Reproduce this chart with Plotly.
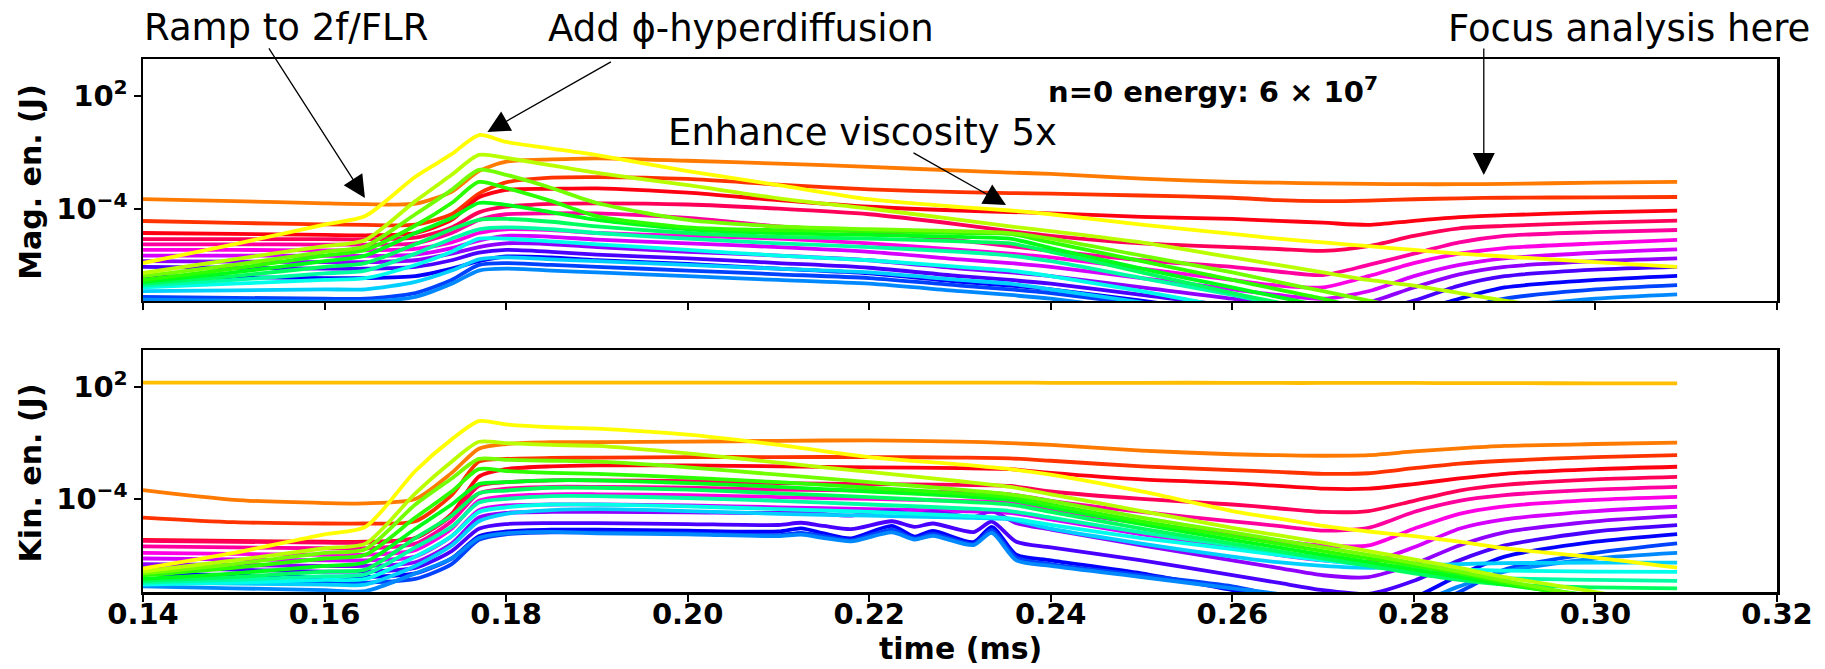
import colorsys
import plotly.graph_objects as go

# ---------------- data (log10 of energy in J) ----------------
time_ms = [0.140, 0.150, 0.160, 0.1645, 0.170, 0.174, 0.177, 0.180, 0.185, 0.190,
           0.200, 0.210, 0.220, 0.230, 0.2355, 0.240, 0.250, 0.260, 0.265, 0.270,
           0.275, 0.280, 0.285, 0.290, 0.300, 0.309]
# finer time base for the kinetic modes that oscillate around t = 0.21-0.236 ms
time_ms_fine = [0.140, 0.150, 0.160, 0.1645, 0.170, 0.174, 0.177, 0.180, 0.185, 0.190,
                0.200, 0.210, 0.2125, 0.215, 0.218, 0.2225, 0.225, 0.227, 0.2315, 0.2335,
                0.2362, 0.240, 0.250, 0.260, 0.265, 0.270, 0.275, 0.280, 0.285, 0.290,
                0.300, 0.309]

# magnetic energy, toroidal mode n=1..21 (n=0 is off scale: 6e7 J)
mag_n01 = [-3.49, -3.60, -3.72, -3.76, -3.74, -3.10, -2.00, -1.50, -1.38, -1.32, -1.45, -1.60, -1.78, -1.98, -2.08, -2.15, -2.40, -2.58, -2.62, -2.66, -2.68, -2.70, -2.70, -2.68, -2.62, -2.58]
mag_n02 = [-4.66, -4.76, -4.84, -4.87, -4.85, -4.30, -3.20, -2.60, -2.35, -2.32, -2.42, -2.72, -2.98, -3.12, -3.17, -3.20, -3.30, -3.42, -3.55, -3.60, -3.57, -3.50, -3.45, -3.42, -3.40, -3.38]
mag_n03 = [-5.30, -5.35, -5.40, -5.42, -5.30, -4.60, -3.40, -3.00, -2.95, -2.92, -3.15, -3.55, -3.90, -4.10, -4.18, -4.25, -4.44, -4.55, -4.65, -4.75, -4.87, -4.65, -4.45, -4.35, -4.20, -4.11]
mag_n04 = [-5.62, -5.62, -5.63, -5.63, -5.55, -5.00, -4.20, -3.90, -3.75, -3.72, -3.78, -4.00, -4.30, -4.85, -5.20, -5.45, -5.85, -6.05, -6.15, -6.25, -6.00, -5.45, -5.05, -4.92, -4.75, -4.64]
mag_n05 = [-5.90, -5.90, -5.92, -5.92, -5.85, -5.30, -4.60, -4.30, -4.25, -4.25, -4.50, -4.95, -5.25, -5.70, -6.00, -6.25, -6.75, -7.10, -7.35, -7.54, -7.00, -6.40, -5.80, -5.45, -5.25, -5.14]
mag_n06 = [-6.20, -6.20, -6.22, -6.22, -6.15, -5.80, -5.30, -5.10, -5.15, -5.30, -5.45, -5.60, -5.85, -6.20, -6.40, -6.60, -7.20, -7.80, -8.10, -8.20, -7.60, -6.90, -6.40, -6.10, -5.85, -5.67]
mag_n07 = [-6.50, -6.50, -6.52, -6.52, -6.45, -6.10, -5.70, -5.45, -5.50, -5.65, -5.85, -6.05, -6.30, -6.70, -6.90, -7.10, -7.70, -8.30, -8.60, -8.80, -8.40, -7.60, -7.00, -6.65, -6.35, -6.17]
mag_n08 = [-6.80, -6.82, -6.85, -6.85, -6.75, -6.40, -6.05, -5.85, -5.90, -6.05, -6.30, -6.50, -6.75, -7.20, -7.40, -7.60, -8.20, -8.80, -9.20, -9.40, -9.00, -8.20, -7.50, -7.10, -6.80, -6.65]
mag_n09 = [-7.10, -7.15, -7.20, -7.20, -7.10, -6.75, -6.35, -6.20, -6.30, -6.45, -6.65, -6.90, -7.15, -7.60, -7.80, -8.00, -8.60, -9.20, -9.60, -9.80, -9.50, -8.90, -8.10, -7.60, -7.25, -7.10]
mag_n10 = [-7.60, -7.65, -7.70, -7.70, -7.60, -7.20, -6.80, -6.55, -6.60, -6.75, -6.95, -7.20, -7.45, -7.90, -8.10, -8.30, -8.90, -9.60, -10.0, -10.2, -10.2, -9.50, -8.80, -8.20, -7.80, -7.58]
mag_n11 = [-8.70, -8.75, -8.80, -8.80, -8.50, -7.80, -7.00, -6.90, -7.00, -7.10, -7.30, -7.50, -7.70, -8.10, -8.30, -8.50, -9.10, -9.80, -10.2, -10.4, -10.4, -10.2, -9.40, -8.80, -8.30, -8.07]
mag_n12 = [-8.85, -8.90, -8.95, -8.95, -8.70, -8.00, -7.30, -7.20, -7.30, -7.40, -7.60, -7.80, -8.00, -8.40, -8.60, -8.80, -9.40, -10.0, -10.4, -10.6, -10.6, -10.5, -9.90, -9.30, -8.80, -8.57]
mag_n13 = [-8.40, -8.35, -8.30, -8.30, -7.90, -7.30, -6.70, -6.60, -6.70, -6.80, -7.00, -7.20, -7.40, -7.80, -8.00, -8.30, -9.00, -9.80, -10.2, -10.5, -10.6, -10.6, -10.4, -10.0, -9.40, -9.05]
mag_n14 = [-8.20, -8.00, -7.80, -7.70, -7.00, -6.30, -5.60, -5.60, -5.75, -5.90, -6.20, -6.50, -6.75, -7.10, -7.30, -7.60, -8.40, -9.30, -9.80, -10.3, -10.6, -10.8, -11.0, -11.0, -11.0, -11.0]
mag_n15 = [-8.10, -7.80, -7.45, -7.30, -6.40, -5.60, -5.10, -5.00, -5.10, -5.30, -5.60, -5.85, -6.05, -6.30, -6.50, -6.80, -7.70, -8.60, -9.10, -9.60, -10.1, -10.6, -11.0, -11.0, -11.0, -11.0]
mag_n16 = [-8.00, -7.60, -7.10, -6.90, -5.90, -5.10, -4.60, -4.55, -4.70, -4.95, -5.30, -5.50, -5.60, -5.75, -5.85, -6.30, -7.40, -8.50, -9.00, -9.50, -10.0, -10.5, -11.0, -11.0, -11.0, -11.0]
mag_n17 = [-7.90, -7.40, -6.80, -6.50, -5.30, -4.50, -3.70, -3.80, -4.20, -4.60, -5.10, -5.30, -5.40, -5.50, -5.60, -6.10, -7.20, -8.20, -8.70, -9.20, -9.70, -10.2, -10.7, -11.0, -11.0, -11.0]
mag_n18 = [-7.80, -7.20, -6.50, -6.20, -4.90, -3.70, -2.58, -2.90, -3.60, -4.40, -5.00, -5.15, -5.20, -5.30, -5.35, -5.80, -6.80, -7.80, -8.30, -8.80, -9.40, -10.0, -10.5, -11.0, -11.0, -11.0]
mag_n19 = [-7.60, -7.00, -6.30, -6.00, -4.30, -3.00, -1.94, -2.20, -2.90, -3.70, -4.60, -4.95, -5.10, -5.20, -5.30, -5.60, -6.50, -7.40, -7.90, -8.40, -8.90, -9.40, -10.0, -10.5, -11.0, -11.0]
mag_n20 = [-7.43, -6.70, -6.00, -5.67, -3.60, -2.20, -1.14, -1.30, -1.70, -2.10, -2.75, -3.45, -4.00, -4.60, -4.95, -5.20, -5.80, -6.60, -7.00, -7.40, -7.80, -8.10, -8.50, -8.90, -9.60, -10.2]
mag_n21 = [-6.90, -5.90, -4.85, -4.39, -2.30, -1.10, -0.08, -0.45, -0.80, -1.15, -2.00, -2.75, -3.50, -3.92, -4.10, -4.30, -4.85, -5.35, -5.60, -5.80, -6.00, -6.20, -6.40, -6.55, -6.85, -7.10]

# kinetic energy, toroidal mode n=0..21 (n=8..12 use time_ms_fine)
kin_n00 = [2.25, 2.25, 2.25, 2.25, 2.25, 2.25, 2.25, 2.25, 2.25, 2.25, 2.25, 2.25, 2.25, 2.25, 2.25, 2.24, 2.24, 2.24, 2.23, 2.23, 2.23, 2.23, 2.22, 2.22, 2.21, 2.21]
kin_n01 = [-3.53, -4.05, -4.22, -4.24, -4.00, -2.60, -1.30, -1.05, -0.95, -0.95, -0.92, -0.88, -0.85, -0.92, -1.00, -1.10, -1.40, -1.60, -1.65, -1.68, -1.65, -1.45, -1.28, -1.15, -1.05, -0.98]
kin_n02 = [-5.00, -5.25, -5.32, -5.32, -5.20, -3.80, -2.00, -1.85, -1.80, -1.78, -1.75, -1.75, -1.75, -1.78, -1.82, -1.95, -2.25, -2.45, -2.55, -2.65, -2.62, -2.35, -2.10, -1.95, -1.75, -1.65]
kin_n03 = [-6.20, -6.25, -6.30, -6.30, -6.10, -4.80, -2.80, -2.40, -2.25, -2.20, -2.20, -2.25, -2.30, -2.35, -2.40, -2.60, -2.95, -3.15, -3.30, -3.45, -3.45, -3.20, -2.90, -2.65, -2.40, -2.27]
kin_n04 = [-6.25, -6.30, -6.35, -6.35, -6.10, -4.90, -3.30, -3.10, -3.00, -3.00, -3.05, -3.15, -3.20, -3.25, -3.30, -3.60, -4.00, -4.30, -4.50, -4.70, -4.65, -4.10, -3.55, -3.25, -2.95, -2.81]
kin_n05 = [-6.55, -6.60, -6.65, -6.65, -6.40, -5.20, -3.70, -3.45, -3.35, -3.35, -3.40, -3.50, -3.55, -3.65, -3.75, -4.10, -4.70, -5.20, -5.45, -5.70, -5.55, -4.70, -4.10, -3.80, -3.50, -3.35]
kin_n06 = [-6.90, -6.95, -7.00, -7.00, -6.75, -5.60, -4.10, -3.85, -3.75, -3.75, -3.80, -3.90, -4.00, -4.10, -4.20, -4.60, -5.30, -5.90, -6.25, -6.50, -6.50, -5.60, -4.80, -4.40, -4.05, -3.89]
kin_n07 = [-7.20, -7.25, -7.30, -7.30, -7.10, -6.00, -4.60, -4.35, -4.30, -4.30, -4.35, -4.45, -4.55, -4.65, -4.75, -5.10, -5.90, -6.60, -7.00, -7.30, -7.40, -6.60, -5.60, -5.10, -4.65, -4.42]
kin_n08 = [-7.50, -7.55, -7.60, -7.60, -7.40, -6.40, -5.00, -4.75, -4.70, -4.70, -4.72, -4.75, -4.65, -4.80, -4.90, -4.62, -4.85, -4.68, -4.98, -4.65, -5.30, -5.65, -6.50, -7.30, -7.70, -8.10, -8.20, -7.50, -6.50, -5.80, -5.20, -4.91]
kin_n09 = [-7.70, -7.80, -7.90, -7.90, -7.70, -6.80, -5.60, -5.35, -5.30, -5.30, -5.35, -5.40, -5.28, -5.45, -5.62, -5.20, -5.50, -5.32, -5.78, -5.22, -6.30, -6.60, -7.30, -8.10, -8.50, -8.90, -9.10, -8.40, -7.30, -6.50, -5.75, -5.41]
kin_n10 = [-8.00, -8.10, -8.20, -8.20, -8.00, -7.20, -6.00, -5.75, -5.65, -5.65, -5.70, -5.75, -5.58, -5.85, -6.12, -5.45, -6.02, -5.72, -6.32, -5.50, -7.00, -7.30, -8.00, -8.90, -9.30, -9.70, -9.90, -9.30, -8.10, -7.10, -6.30, -5.89]
kin_n11 = [-8.30, -8.40, -8.50, -8.50, -8.30, -7.50, -6.20, -5.90, -5.80, -5.80, -5.85, -5.95, -5.82, -6.00, -6.22, -5.65, -6.12, -5.88, -6.42, -5.68, -7.15, -7.50, -8.10, -8.70, -9.20, -9.60, -10.0, -10.0, -9.00, -7.80, -6.90, -6.39]
kin_n12 = [-8.70, -8.80, -8.90, -8.95, -8.00, -7.20, -6.10, -5.85, -5.77, -5.85, -5.90, -6.00, -5.92, -6.10, -6.28, -5.80, -6.18, -5.98, -6.48, -5.82, -7.30, -7.60, -8.20, -8.80, -9.10, -9.50, -9.80, -9.60, -8.70, -7.90, -7.20, -6.90]
kin_n13 = [-8.50, -8.55, -8.60, -8.60, -7.60, -6.50, -5.20, -4.80, -4.60, -4.55, -4.65, -4.80, -4.90, -5.00, -5.10, -5.60, -6.40, -7.10, -7.40, -7.60, -7.70, -7.60, -7.50, -7.45, -7.42, -7.42]
kin_n14 = [-8.60, -8.50, -8.35, -8.30, -7.10, -6.00, -4.70, -4.45, -4.30, -4.30, -4.40, -4.55, -4.70, -4.90, -5.05, -5.40, -6.10, -6.70, -7.00, -7.30, -7.55, -7.70, -7.80, -7.85, -7.90, -7.92]
kin_n15 = [-8.50, -8.35, -8.15, -8.05, -6.60, -5.50, -4.20, -4.00, -3.85, -3.85, -3.95, -4.10, -4.30, -4.50, -4.65, -5.00, -5.80, -6.50, -6.85, -7.20, -7.55, -7.85, -8.10, -8.25, -8.35, -8.40]
kin_n16 = [-8.40, -8.20, -7.90, -7.80, -6.10, -4.90, -3.70, -3.55, -3.40, -3.40, -3.50, -3.70, -3.90, -4.15, -4.30, -4.70, -5.60, -6.40, -6.80, -7.20, -7.60, -8.00, -8.35, -8.60, -8.75, -8.81]
kin_n17 = [-8.30, -8.00, -7.60, -7.40, -5.60, -4.30, -3.20, -3.10, -3.00, -3.00, -3.15, -3.35, -3.60, -3.85, -4.05, -4.45, -5.35, -6.20, -6.60, -7.00, -7.40, -7.80, -8.20, -8.60, -9.20, -9.60]
kin_n18 = [-8.10, -7.70, -7.20, -7.00, -5.00, -3.60, -2.40, -2.50, -2.60, -2.65, -2.85, -3.10, -3.40, -3.70, -3.90, -4.30, -5.20, -6.00, -6.40, -6.80, -7.20, -7.60, -8.00, -8.50, -9.40, -10.0]
kin_n19 = [-8.00, -7.50, -6.90, -6.70, -4.30, -2.90, -1.85, -1.90, -1.95, -2.00, -2.30, -2.70, -3.10, -3.50, -3.75, -4.10, -5.00, -5.80, -6.20, -6.60, -7.00, -7.45, -7.90, -8.40, -9.30, -10.0]
kin_n20 = [-7.90, -7.30, -6.65, -6.40, -3.70, -2.00, -0.93, -1.00, -1.10, -1.15, -1.55, -2.05, -2.55, -3.05, -3.35, -3.75, -4.65, -5.55, -5.95, -6.35, -6.80, -7.25, -7.70, -8.20, -9.00, -9.80]
kin_n21 = [-7.74, -6.90, -5.90, -5.50, -2.50, -0.80, 0.18, 0.00, -0.15, -0.22, -0.55, -1.10, -1.75, -2.15, -2.40, -2.70, -3.60, -4.65, -5.05, -5.45, -5.75, -6.00, -6.30, -6.65, -7.15, -7.69]

mag_series = [mag_n01, mag_n02, mag_n03, mag_n04, mag_n05, mag_n06, mag_n07, mag_n08, mag_n09, mag_n10,
              mag_n11, mag_n12, mag_n13, mag_n14, mag_n15, mag_n16, mag_n17, mag_n18, mag_n19, mag_n20, mag_n21]
kin_series = [kin_n00, kin_n01, kin_n02, kin_n03, kin_n04, kin_n05, kin_n06, kin_n07, kin_n08, kin_n09, kin_n10,
              kin_n11, kin_n12, kin_n13, kin_n14, kin_n15, kin_n16, kin_n17, kin_n18, kin_n19, kin_n20, kin_n21]

x_ticks = [0.14, 0.16, 0.18, 0.20, 0.22, 0.24, 0.26, 0.28, 0.30, 0.32]
x_tick_text = ["0.14", "0.16", "0.18", "0.20", "0.22", "0.24", "0.26", "0.28", "0.30", "0.32"]
y_ticks = [1e2, 1e-4]
y_tick_text = ["10<sup>2</sup>", "10<sup>\u22124</sup>"]

# ---------------- style ----------------
mode_hue_deg = [45, 28.6, 12.1, 355.7, 339.3, 322.9, 306.4, 290, 273.6, 257.1, 240.7,
                224.3, 207.8, 191.4, 175, 158.6, 142.1, 125.7, 109.3, 92.8, 76.4, 60]


def hue_color(h):
    r, g, b = colorsys.hsv_to_rgb((h % 360) / 360.0, 1.0, 1.0)
    return "rgb(%d,%d,%d)" % (round(r * 255), round(g * 255), round(b * 255))


LW = 3.8
FONT = "DejaVu Sans"


def line_style(n):
    return dict(color=hue_color(mode_hue_deg[n]), width=LW, shape="spline", smoothing=0.7)


fig = go.Figure()
for i, s in enumerate(mag_series):
    n = i + 1
    fig.add_trace(go.Scatter(x=time_ms, y=[10 ** v for v in s], mode="lines",
                             line=line_style(n), xaxis="x", yaxis="y",
                             name="n=%d" % n, hoverinfo="skip"))
for n, s in enumerate(kin_series):
    t = time_ms_fine if len(s) == len(time_ms_fine) else time_ms
    fig.add_trace(go.Scatter(x=t, y=[10 ** v for v in s], mode="lines",
                             line=line_style(n), xaxis="x2", yaxis="y2",
                             name="n=%d" % n, hoverinfo="skip"))

axis_common = dict(showline=True, linewidth=2.5, linecolor="black", mirror=True,
                   ticks="outside", ticklen=7, tickwidth=2, tickcolor="black",
                   showgrid=False, zeroline=False,
                   tickfont=dict(family=FONT, size=29, color="black", weight="bold"))

fig.update_layout(
    width=1825, height=669,
    margin=dict(l=143, r=40, t=59, b=77),
    paper_bgcolor="white", plot_bgcolor="white", showlegend=False,
    xaxis=dict(domain=[0, 1], anchor="y", range=[0.14, 0.32], tickvals=x_ticks,
               ticktext=x_tick_text, showticklabels=False, **axis_common),
    xaxis2=dict(domain=[0, 1], anchor="y2", range=[0.14, 0.32], tickvals=x_ticks,
                ticktext=x_tick_text, ticklabelstandoff=-12, **axis_common),
    yaxis=dict(domain=[0.546, 1], anchor="x", type="log", range=[-8.92, 3.97],
               tickvals=y_ticks, ticktext=y_tick_text, **axis_common),
    yaxis2=dict(domain=[0, 0.454], anchor="x2", type="log", range=[-9.0, 4.0],
                tickvals=y_ticks, ticktext=y_tick_text, **axis_common),
)

bold_label = dict(family=FONT, size=30, color="black", weight="bold")
note_font = dict(family=FONT, size=37, color="black")

annotations = [
    dict(text="Mag. en. (J)", xref="paper", yref="paper", x=-0.069, y=0.770,
         textangle=-90, showarrow=False, font=bold_label, xanchor="center", yanchor="middle"),
    dict(text="Kin. en. (J)", xref="paper", yref="paper", x=-0.069, y=0.223,
         textangle=-90, showarrow=False, font=bold_label, xanchor="center", yanchor="middle"),
    dict(text="time (ms)", xref="paper", yref="paper", x=0.5, y=-0.106,
         showarrow=False, font=bold_label, xanchor="center", yanchor="middle"),
    dict(text="n=0 energy: 6 \u00d7 10<sup>7</sup>", xref="paper", yref="paper", x=0.655, y=0.942,
         showarrow=False, font=dict(family=FONT, size=29, color="black", weight="bold"),
         xanchor="center", yanchor="middle"),
    dict(text="Ramp to 2f/FLR", xref="paper", yref="paper", x=0.0877, y=1.060,
         showarrow=False, font=note_font, xanchor="center", yanchor="middle"),
    dict(text="Add \u03d5-hyperdiffusion", xref="paper", yref="paper", x=0.366, y=1.058,
         showarrow=False, font=note_font, xanchor="center", yanchor="middle"),
    dict(text="Focus analysis here", xref="paper", yref="paper", x=0.9093, y=1.058,
         showarrow=False, font=note_font, xanchor="center", yanchor="middle"),
    dict(text="Enhance viscosity 5x", xref="paper", yref="paper", x=0.4403, y=0.862,
         showarrow=False, font=note_font, xanchor="center", yanchor="middle"),
]

arrow_style = dict(text="", showarrow=True, arrowhead=2, arrowsize=3.4, arrowwidth=1.3,
                   arrowcolor="black", axref="pixel", ayref="pixel", standoff=0, startstandoff=0)
# arrow tips in data coordinates (time, log10 energy), tails as pixel offsets
annotations += [
    dict(xref="x", yref="y", x=0.16445, y=-3.43, ax=-97, ay=-151, **arrow_style),
    dict(xref="x", yref="y", x=0.17794, y=0.08, ax=125, ay=-71, **arrow_style),
    dict(xref="x", yref="y", x=0.23507, y=-3.81, ax=-94, ay=-53, **arrow_style),
    dict(xref="x", yref="y", x=0.28770, y=-2.21, ax=0, ay=-128, **arrow_style),
]
fig.update_layout(annotations=annotations)

# remove the browser's default 8px page margin so the figure fills the window exactly
fig.write_html("out.html", config={"displayModeBar": False, "staticPlot": True},
               post_script="document.body.style.margin='0';document.body.style.overflow='hidden';")
